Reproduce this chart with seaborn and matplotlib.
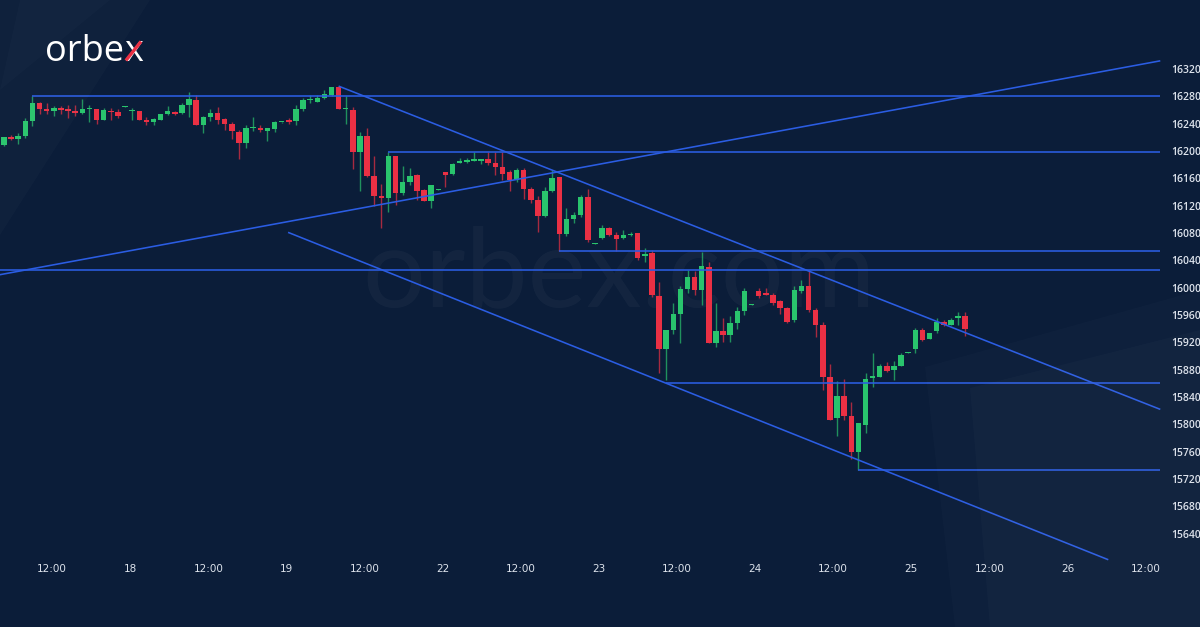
import numpy as np
import pandas as pd
import matplotlib
matplotlib.use("Agg")
import matplotlib.pyplot as plt
import seaborn as sns
from matplotlib.patches import Polygon
from matplotlib.transforms import Bbox

# ---------------- data ----------------
opens = [16209, 16220, 16218, 16222, 16244, 16271, 16262, 16259, 16263, 16261,
         16259, 16256, 16262, 16262, 16246, 16259, 16257, 16265, 16258, 16259,
         16246, 16243, 16245, 16254, 16257, 16256, 16267, 16275, 16238, 16250,
         16255, 16247, 16240, 16228, 16212, 16233, 16233, 16230, 16232, 16242,
         16245, 16244, 16261, 16275, 16272, 16277, 16282, 16293, 16261, 16260,
         16198, 16222, 16163, 16134, 16132, 16193, 16138, 16155, 16165, 16143,
         16127, 16143, 16169, 16166, 16182, 16184, 16186, 16186, 16188, 16183,
         16176, 16170, 16157, 16172, 16144, 16129, 16105, 16142, 16162, 16079,
         16100, 16106, 16133, 16064, 16073, 16087, 16077, 16073, 16077, 16080,
         16047, 16051, 15988, 15911, 15938, 15962, 15998, 16015, 15997, 16030,
         15919, 15936, 15931, 15948, 15966, 15975, 15995, 15991, 15989, 15980,
         15970, 15953, 15995, 16003, 15967, 15945, 15869, 15809, 15842, 15812,
         15760, 15799, 15868, 15870, 15885, 15880, 15886, 15905, 15911, 15938,
         15925, 15936, 15950, 15946, 15955, 15958]
highs = [16221, 16224, 16226, 16249, 16280, 16272, 16270, 16266, 16266, 16268,
         16267, 16276, 16268, 16262, 16263, 16263, 16261, 16266, 16263, 16259,
         16250, 16248, 16254, 16266, 16258, 16270, 16286, 16282, 16251, 16262,
         16264, 16249, 16243, 16231, 16238, 16250, 16238, 16233, 16244, 16243,
         16249, 16268, 16278, 16282, 16282, 16289, 16293, 16295, 16280, 16265,
         16228, 16233, 16193, 16152, 16198, 16193, 16178, 16175, 16167, 16145,
         16150, 16144, 16169, 16183, 16190, 16190, 16198, 16188, 16198, 16198,
         16198, 16172, 16175, 16175, 16147, 16134, 16147, 16172, 16162, 16116,
         16111, 16136, 16144, 16065, 16092, 16089, 16082, 16085, 16082, 16080,
         16058, 16055, 16009, 15938, 15977, 16003, 16026, 16024, 16053, 16038,
         15977, 15955, 15959, 15972, 15999, 15976, 16000, 15999, 15992, 15982,
         15972, 16002, 16011, 16026, 15970, 15950, 15889, 15864, 15866, 15833,
         15802, 15875, 15904, 15888, 15892, 15893, 15904, 15906, 15941, 15941,
         15934, 15955, 15953, 15955, 15964, 15964]
lows = [16208, 16216, 16210, 16219, 16236, 16254, 16254, 16251, 16254, 16248,
        16251, 16254, 16242, 16239, 16245, 16246, 16248, 16264, 16245, 16245,
        16238, 16238, 16245, 16253, 16253, 16254, 16250, 16238, 16226, 16244,
        16240, 16231, 16217, 16188, 16204, 16230, 16228, 16215, 16228, 16241,
        16240, 16238, 16258, 16271, 16272, 16276, 16281, 16262, 16239, 16173,
        16142, 16162, 16119, 16088, 16111, 16121, 16136, 16151, 16129, 16127,
        16117, 16143, 16147, 16165, 16182, 16182, 16186, 16181, 16180, 16165,
        16158, 16142, 16155, 16130, 16124, 16082, 16104, 16140, 16054, 16075,
        16094, 16104, 16067, 16064, 16072, 16076, 16054, 16072, 16075, 16040,
        16038, 15987, 15875, 15865, 15933, 15919, 15992, 15989, 15975, 15919,
        15914, 15921, 15921, 15940, 15960, 15974, 15985, 15989, 15975, 15961,
        15948, 15950, 15992, 15965, 15928, 15850, 15806, 15783, 15806, 15750,
        15733, 15788, 15855, 15869, 15877, 15865, 15885, 15905, 15905, 15922,
        15925, 15934, 15944, 15945, 15945, 15929]
closes = [16220, 16218, 16222, 16244, 16271, 16261, 16259, 16263, 16260, 16258,
          16256, 16262, 16263, 16246, 16260, 16257, 16251, 16266, 16259, 16246,
          16243, 16247, 16254, 16259, 16254, 16267, 16276, 16238, 16250, 16255,
          16246, 16240, 16229, 16212, 16233, 16234, 16231, 16233, 16242, 16243,
          16243, 16261, 16275, 16276, 16278, 16283, 16293, 16262, 16262, 16198,
          16222, 16163, 16134, 16132, 16193, 16138, 16154, 16164, 16142, 16127,
          16150, 16144, 16165, 16181, 16185, 16187, 16188, 16188, 16183, 16176,
          16167, 16157, 16172, 16144, 16128, 16105, 16142, 16160, 16079, 16100,
          16106, 16133, 16070, 16065, 16088, 16077, 16072, 16077, 16078, 16044,
          16050, 15989, 15910, 15938, 15962, 15998, 16015, 15997, 16032, 15919,
          15936, 15931, 15948, 15966, 15995, 15976, 15988, 15990, 15978, 15971,
          15950, 15996, 16002, 15967, 15945, 15870, 15807, 15842, 15812, 15760,
          15802, 15867, 15871, 15886, 15878, 15886, 15902, 15906, 15938, 15923,
          15934, 15950, 15945, 15953, 15958, 15939]

y_ticks = list(range(15640, 16321, 40))
x_tick_labels = ["12:00", "18", "12:00", "19", "12:00", "22", "12:00", "23",
                 "12:00", "24", "12:00", "25", "12:00", "26", "12:00"]

# horizontal levels and the candle index each one starts from (None = left edge)
h_levels = [16280, 16198, 16054, 16026, 15860, 15734]
h_start = [4, 54, 78, None, 93, 120]

# sloped trend lines: (index, price) end points
upper_x, upper_y = [47, 162.4], [16295, 15822]
lower_x, lower_y = [39.9, 155.1], [16081, 15602]
rising_x, rising_y = [-0.6, 162.4], [16019, 16332]

# ---------------- style ----------------
BG = "#0b1d39"
GREEN = "#29c46d"
RED = "#ea3044"
LINE = "#2b5de3"
TXT = "#dde3ec"

sns.set_theme(style="dark", rc={"axes.facecolor": BG, "figure.facecolor": BG,
                                "savefig.facecolor": BG, "axes.grid": False})
plt.rcParams["font.family"] = ["Open Sans", "DejaVu Sans"]

W, H = 1200, 627
fig = plt.figure(figsize=(12, 6.27), dpi=100)
ax_bottom_px = 557
ax = fig.add_axes([0, (H - ax_bottom_px) / H, 1160 / W, ax_bottom_px / H])
ax.set_facecolor(BG)

XMIN, XMAX = -0.56, 162.36
YMIN, YMAX = 15606, 16421
ax.set_xlim(XMIN, XMAX)
ax.set_ylim(YMIN, YMAX)

# decorative background shapes (figure coords)
def fpoly(pts, color, alpha):
    p = Polygon([(x / W, 1 - y / H) for x, y in pts], closed=True,
                transform=fig.transFigure, facecolor=color, alpha=alpha,
                edgecolor="none", zorder=0)
    fig.patches.append(p)

fpoly([(0, 0), (150, 0), (0, 235)], "white", 0.02)
fpoly([(20, 0), (110, 0), (0, 90)], "white", 0.015)
fpoly([(925, 367), (1200, 290), (1200, 627), (955, 627)], "white", 0.015)
fpoly([(970, 388), (1200, 330), (1200, 627), (990, 627)], "white", 0.02)

# watermark
ax.text(0.534, 0.505, "orbex.com", transform=ax.transAxes, ha="center",
        va="center", fontsize=80, color="white", alpha=0.035, zorder=0,
        family=["Lato", "DejaVu Sans"])

# ---------------- candles ----------------
df = pd.DataFrame({"open": opens, "high": highs, "low": lows, "close": closes})
df["idx"] = np.arange(len(df))
df["up"] = df["close"] >= df["open"]
df["color"] = np.where(df["up"], GREEN, RED)
df["body_lo"] = df[["open", "close"]].min(axis=1)
df["body_h"] = (df["close"] - df["open"]).abs().clip(lower=1.6)

ax.vlines(df["idx"], df["low"], df["high"], colors=df["color"], lw=1.0,
          alpha=0.7, zorder=2)
ax.bar(df["idx"], df["body_h"], bottom=df["body_lo"], width=0.77,
       color=df["color"], linewidth=0, zorder=3)

# ---------------- lines ----------------
rows = []
for k, (lvl, st) in enumerate(zip(h_levels, h_start)):
    x0 = XMIN if st is None else st
    rows += [{"line": f"h{k}", "x": x0, "y": lvl}, {"line": f"h{k}", "x": XMAX, "y": lvl}]
for name, xs, ys in [("upper", upper_x, upper_y), ("lower", lower_x, lower_y),
                     ("rising", rising_x, rising_y)]:
    rows += [{"line": name, "x": xs[0], "y": ys[0]}, {"line": name, "x": xs[1], "y": ys[1]}]
lines_df = pd.DataFrame(rows)
sns.lineplot(data=lines_df, x="x", y="y", units="line", estimator=None,
             color=LINE, lw=1.15, ax=ax, zorder=4, sort=False)
for ln in ax.get_lines():
    ln.set_clip_on(False)
    ln.set_solid_capstyle("butt")

# ---------------- axes ----------------
for s in ax.spines.values():
    s.set_visible(False)
ax.set_xlabel("")
ax.set_ylabel("")
ax.yaxis.tick_right()
ax.set_yticks(y_ticks)
ax.set_yticklabels([str(v) for v in y_ticks])
tick_pos = [6.75 + 10.97 * k for k in range(len(x_tick_labels))]
ax.set_xticks(tick_pos)
ax.set_xticklabels(x_tick_labels)
ax.tick_params(axis="y", length=0, pad=8, labelsize=7.5, colors=TXT)
ax.tick_params(axis="x", length=0, pad=5, labelsize=7.5, colors=TXT)
for lab in ax.get_yticklabels():
    lab.set_fontweight("semibold")
for lab in ax.get_xticklabels():
    lab.set_family(["Liberation Sans Narrow", "DejaVu Sans"])
clip = Bbox.from_extents(0, 0, 1160, H)
last = ax.get_xticklabels()[-1]
last.set_clip_box(clip)
last.set_clip_on(True)

# ---------------- logo ----------------
FS = 26
t1 = fig.text(45 / W, 1 - 61 / H, "orbe", color="white", fontsize=FS,
              va="baseline", ha="left", family=["Open Sans", "DejaVu Sans"])
fig.canvas.draw()
r = fig.canvas.get_renderer()
bb = t1.get_window_extent(r)
t2 = fig.text(bb.x1 / W, 1 - 61 / H, "x", color="white", fontsize=FS,
              va="baseline", ha="left", family=["Open Sans", "DejaVu Sans"])
bb2 = t2.get_window_extent(r)
xw = bb2.x1 - bb2.x0
base = H - 61
xh = 0.54 * FS * 100 / 72
fig.add_artist(plt.Line2D([(bb2.x0 + 0.1 * xw) / W, (bb2.x1 - 0.1 * xw) / W],
                          [(base + 0.5) / H, (base + xh) / H], color=RED, lw=2.4,
                          transform=fig.transFigure, solid_capstyle="butt",
                          zorder=10))

fig.savefig("out.png", dpi=100, facecolor=BG)
